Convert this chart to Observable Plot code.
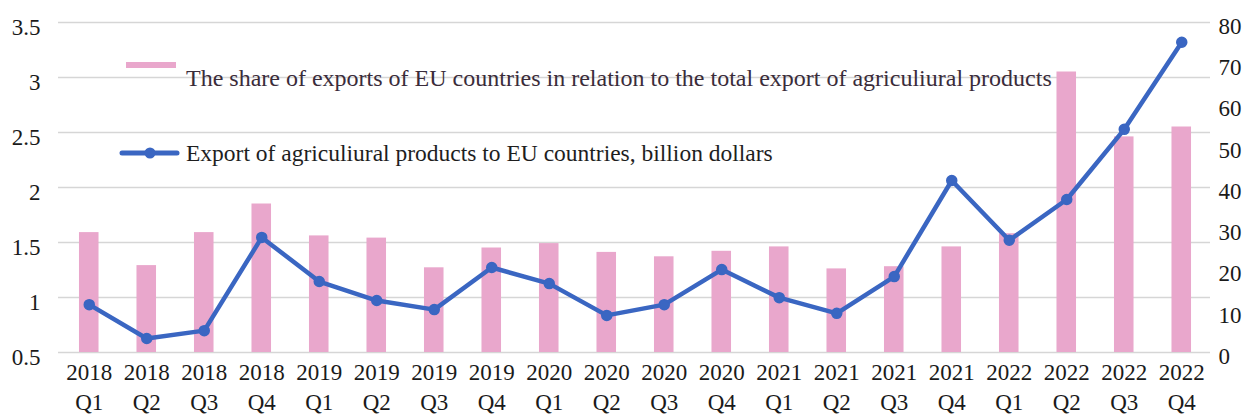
<!DOCTYPE html>
<html>
<head>
<meta charset="utf-8">
<script src="https://cdn.jsdelivr.net/npm/d3@7"></script>
<script src="https://cdn.jsdelivr.net/npm/@observablehq/plot@0.6"></script>
<style>
  html, body { margin: 0; padding: 0; background: #ffffff; }
  #wrap { position: relative; width: 1252px; height: 419px; font-family: "Liberation Serif", serif; }
  #chart svg, #chart svg text { font-family: "Liberation Serif", serif !important; }
  .leg { position: absolute; white-space: nowrap; font-family: "Liberation Serif", serif; }
</style>
</head>
<body>
<div id="wrap">
  <div id="chart"></div>
  <div class="leg" style="left:126px;top:62px;width:50px;height:6px;background:#e9a7cc;"></div>
  <div class="leg" id="t1" style="left:186px;top:64px;font-size:24px;color:#3a2c3a;line-height:28px;">The share of exports of EU countries in relation to the total export of agriculiural products</div>
  <svg class="leg" style="left:118px;top:144px;" width="64" height="18">
    <line x1="4" y1="9" x2="59" y2="9" stroke="#3a66c2" stroke-width="5" stroke-linecap="round"></line>
    <circle cx="32" cy="9" r="5.5" fill="#3a66c2"></circle>
  </svg>
  <div class="leg" id="t2" style="left:186px;top:139px;font-size:23.5px;color:#1e1e1e;line-height:28px;">Export of agriculiural products to EU countries, billion dollars</div>
</div>
<script>
const years = ["2018","2018","2018","2018","2019","2019","2019","2019","2020","2020","2020","2020","2021","2021","2021","2021","2022","2022","2022","2022"];
const quarters = ["Q1","Q2","Q3","Q4","Q1","Q2","Q3","Q4","Q1","Q2","Q3","Q4","Q1","Q2","Q3","Q4","Q1","Q2","Q3","Q4"];
// share of exports to EU in total agricultural exports (left axis)
const shareValues = [1.59,1.29,1.59,1.85,1.56,1.54,1.27,1.45,1.49,1.41,1.37,1.42,1.46,1.26,1.28,1.46,1.58,3.05,2.46,2.55];
// export of agricultural products to EU, billion dollars (right axis)
const exportValues = [11.6,3.4,5.3,27.9,17.2,12.6,10.4,20.6,16.7,9.0,11.6,20.1,13.3,9.5,18.4,41.7,27.2,37.1,54.1,75.2];
const leftTicks = [0.5,1,1.5,2,2.5,3,3.5];
const rightTicks = [0,10,20,30,40,50,60,70,80];

const leftMin = 0.5, leftMax = 3.5, rightMax = 80;
const toLeft = v => leftMin + v * (leftMax - leftMin) / rightMax;

const categories = years.map((y, i) => `${y}\n${quarters[i]}`);
const data = categories.map((c, i) => ({cat: c, share: shareValues[i], exp: exportValues[i]}));

const chart = Plot.plot({
  width: 1252,
  height: 419,
  marginLeft: 60,
  marginRight: 42,
  marginTop: 22,
  marginBottom: 67,
  style: {fontFamily: "'Liberation Serif', serif", fontSize: "23px", color: "#1a1a1a", background: "transparent"},
  x: {type: "band", domain: categories, paddingInner: 0.66, paddingOuter: 0.33, align: 0.5, round: false},
  y: {domain: [leftMin, leftMax]},
  marks: [
    Plot.gridY(leftTicks, {stroke: "#d6d6d6", strokeOpacity: 1, strokeWidth: 1.3, insetLeft: -2}),
    Plot.barY(data, {x: "cat", y1: leftMin, y2: "share", fill: "#e9a7cc"}),
    Plot.line(data, {x: "cat", y: d => toLeft(d.exp), stroke: "#3a66c2", strokeWidth: 4.5}),
    Plot.dot(data, {x: "cat", y: d => toLeft(d.exp), r: 5, fill: "#3a66c2", stroke: "#3a66c2"}),
    Plot.axisY(leftTicks, {anchor: "left", tickSize: 0, tickPadding: 20, dy: 5, tickFormat: d => String(d), label: null}),
    Plot.axisY(rightTicks.map(toLeft), {anchor: "right", tickSize: 0, tickPadding: 8, dy: 4, tickFormat: (d, i) => String(rightTicks[i]), label: null}),
    Plot.axisX({anchor: "bottom", tickSize: 0, tickPadding: 6, lineHeight: 1.3, label: null})
  ]
});
document.getElementById("chart").appendChild(chart);
</script>
</body>
</html>
